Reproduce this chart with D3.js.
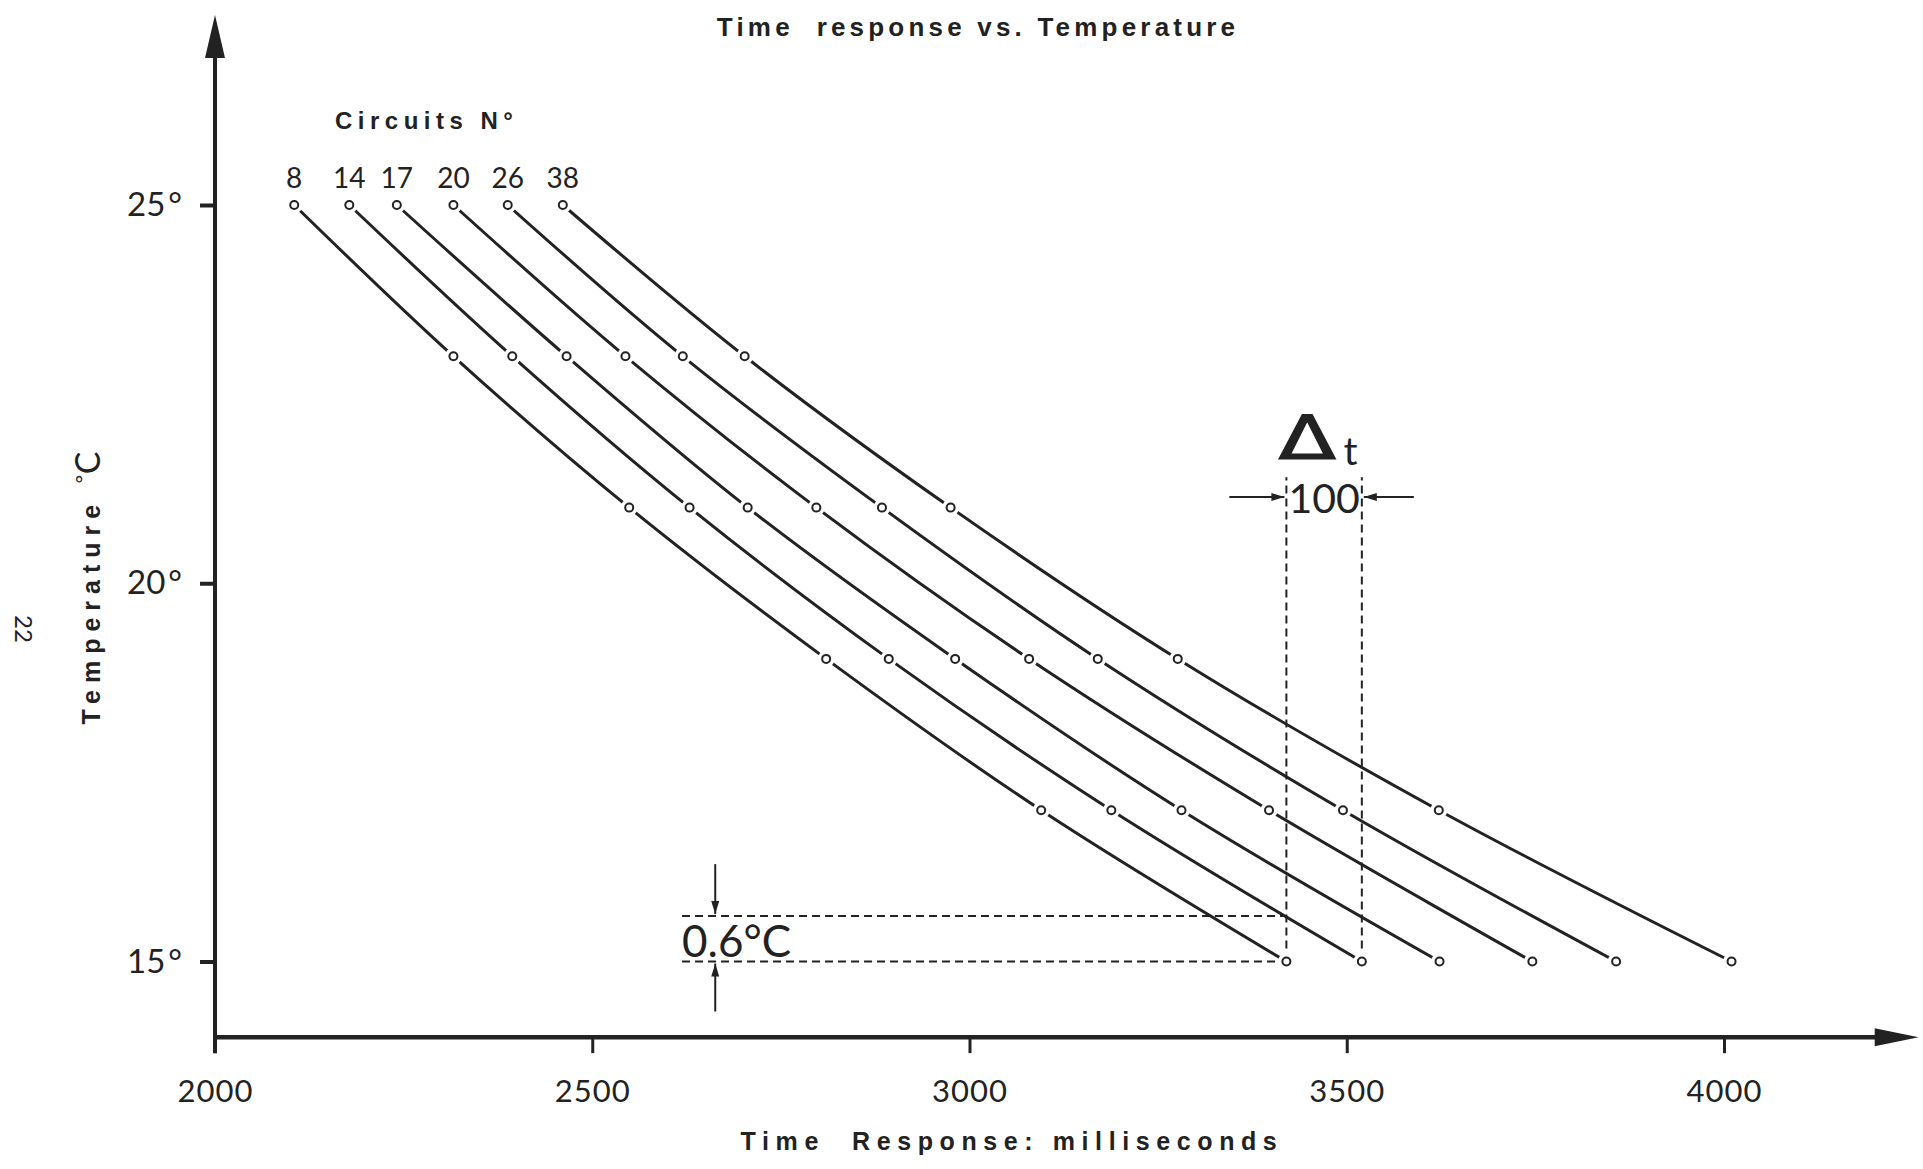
<!DOCTYPE html>
<html>
<head>
<meta charset="utf-8">
<script src="https://cdn.jsdelivr.net/npm/d3@7"></script>
<style>
  body { margin: 0; background: #fff; }
  svg text { fill: #222; white-space: pre; }
</style>
</head>
<body>
<svg></svg>
<script>
// chart size
const W = 1923, H = 1169;

// data
const temps = [25, 23, 21, 19, 17, 15];
const circuits = ["8", "14", "17", "20", "26", "38"];
const c8  = [2105, 2316, 2549, 2810, 3095, 3420];
const c14 = [2178, 2394, 2629, 2893, 3188, 3520];
const c17 = [2241, 2466, 2706, 2981, 3281, 3623];
const c20 = [2316, 2544, 2797, 3079, 3397, 3746];
const c26 = [2388, 2620, 2884, 3170, 3495, 3857];
const c38 = [2461, 2702, 2975, 3276, 3622, 4010];
const xTicks = [2000, 2500, 3000, 3500, 4000];
const yTicks = [15, 20, 25];

// annotation values (ms / °C)
const dtLeft = 3420, dtRight = 3520, dtTop = 21.4;
const dTLow = 15, dTHigh = 15.6, dTStart = 2619, dTArrowX = 2663;

const times = [c8, c14, c17, c20, c26, c38];
const series = circuits.map((c, i) => ({
  name: c,
  values: times[i].map((t, j) => ({ t: t, temp: temps[j] }))
}));

const svg = d3.select('svg').attr('width', W).attr('height', H);

const x = d3.scaleLinear().domain([2000, 4000]).range([215, 1724]);
const y = d3.scaleLinear().domain([15, 25]).range([961.5, 205]);
const xEnd = 4258;   // arrow tip of the time axis
const yTop = 27.51;  // arrow tip of the temperature axis
const yBottom = 14.0; // where the time axis sits
const ink = '#222';

// marker for the small dimension arrows
svg.append('defs').append('marker')
    .attr('id', 'tip')
    .attr('markerUnits', 'userSpaceOnUse')
    .attr('markerWidth', 14).attr('markerHeight', 10)
    .attr('refX', 13).attr('refY', 4)
    .attr('orient', 'auto')
  .append('path')
    .attr('d', 'M0,0 L13,4 L0,8 Z')
    .attr('fill', ink);

// ***** AXES *****
const x0 = x(2000), yAx = y(yBottom);

var xAxis = svg.append('g')
    .attr('transform', `translate(0,${yAx})`)
    .call(d3.axisBottom(x).tickValues(xTicks).tickSize(16).tickSizeOuter(0).tickPadding(27)
      .tickFormat(d => String(d)));
xAxis.select('.domain').remove();
xAxis.selectAll('line').attr('stroke', ink).attr('stroke-width', 3);
xAxis.selectAll('text')
    .attr('font-family', 'Lato, "Open Sans", sans-serif')
    .attr('font-size', 31)
    .attr('letter-spacing', 1)
    .attr('fill', ink);

var yAxis = svg.append('g')
    .attr('transform', `translate(${x0},0)`)
    .call(d3.axisLeft(y).tickValues(yTicks).tickSize(15).tickSizeOuter(0).tickPadding(18));
yAxis.select('.domain').remove();
yAxis.selectAll('line').attr('stroke', ink).attr('stroke-width', 4);
// number plus a detached degree sign
yAxis.selectAll('text')
    .attr('font-family', 'Lato, "Open Sans", sans-serif')
    .attr('font-size', 33)
    .attr('fill', ink)
    .text(null)
    .each(function(d) {
      d3.select(this).append('tspan').text(d);
      d3.select(this).append('tspan').attr('dx', 3).text('°');
    });

// axis lines with arrow heads
svg.append('line')
    .attr('x1', x0).attr('x2', x(xEnd) - 40)
    .attr('y1', yAx).attr('y2', yAx)
    .attr('stroke', ink).attr('stroke-width', 4.5);
svg.append('path')
    .attr('d', `M${x(xEnd)},${yAx} L${x(xEnd) - 44},${yAx - 9} L${x(xEnd) - 44},${yAx + 9} Z`)
    .attr('fill', ink);
svg.append('line')
    .attr('x1', x0).attr('x2', x0)
    .attr('y1', yAx + 16).attr('y2', y(yTop) + 40)
    .attr('stroke', ink).attr('stroke-width', 4);
svg.append('path')
    .attr('d', `M${x0},${y(yTop)} L${x0 - 10},${y(yTop) + 43} L${x0 + 10},${y(yTop) + 43} Z`)
    .attr('fill', ink);

// ***** DIMENSION LINES *****
const dash = '8,5';
var dims = svg.append('g').attr('stroke', ink).attr('stroke-width', 2).attr('stroke-dasharray', dash);
[dtLeft, dtRight].forEach(v => {
  dims.append('line')
      .attr('x1', x(v)).attr('x2', x(v))
      .attr('y1', y(dTLow)).attr('y2', y(dtTop));
});
[dTLow, dTHigh].forEach(v => {
  dims.append('line')
      .attr('x1', x(dTStart)).attr('x2', x(dtLeft))
      .attr('y1', y(v)).attr('y2', y(v));
});

// arrows pointing at the dimension lines
var arrows = svg.append('g').attr('stroke', ink).attr('stroke-width', 2);
const yArrow = 497;
arrows.append('line')
    .attr('x1', x(dtLeft) - 57).attr('x2', x(dtLeft) - 2)
    .attr('y1', yArrow).attr('y2', yArrow)
    .attr('marker-end', 'url(#tip)');
arrows.append('line')
    .attr('x1', x(dtRight) + 52).attr('x2', x(dtRight) + 2)
    .attr('y1', yArrow).attr('y2', yArrow)
    .attr('marker-end', 'url(#tip)');
arrows.append('line')
    .attr('x1', x(dTArrowX)).attr('x2', x(dTArrowX))
    .attr('y1', y(dTHigh) - 52).attr('y2', y(dTHigh) - 2)
    .attr('marker-end', 'url(#tip)');
arrows.append('line')
    .attr('x1', x(dTArrowX)).attr('x2', x(dTArrowX))
    .attr('y1', y(dTLow) + 50).attr('y2', y(dTLow) + 2)
    .attr('marker-end', 'url(#tip)');

// ***** CURVES *****
const line = d3.line()
    .x(d => x(d.t))
    .y(d => y(d.temp))
    .curve(d3.curveCatmullRom.alpha(0.5));

svg.append('g').selectAll('path.curve')
  .data(series)
  .enter().append('path')
    .attr('class', 'curve')
    .attr('d', d => line(d.values))
    .attr('fill', 'none')
    .attr('stroke', ink)
    .attr('stroke-width', 3);

// white halos break the curves around each point
var pts = svg.append('g').selectAll('g.pt')
  .data(series.flatMap(s => s.values))
  .enter().append('g')
    .attr('class', 'pt')
    .attr('transform', d => `translate(${x(d.t)},${y(d.temp)})`);
pts.append('circle').attr('r', 8.5).attr('fill', '#fff');
pts.append('circle').attr('r', 4)
    .attr('fill', '#fff').attr('stroke', ink).attr('stroke-width', 2);

// circuit numbers above the 25° points
svg.append('g').selectAll('text')
  .data(series)
  .enter().append('text')
    .attr('x', d => x(d.values[0].t))
    .attr('y', y(25) - 17)
    .attr('text-anchor', 'middle')
    .attr('font-family', 'Lato, "Open Sans", sans-serif')
    .attr('font-size', 28)
    .text(d => d.name);

// ***** TEXT *****
svg.append('text')
    .attr('x', 978).attr('y', 36)
    .attr('text-anchor', 'middle')
    .attr('font-family', '"Liberation Sans", Arial, sans-serif')
    .attr('font-weight', 'bold')
    .attr('font-size', 26)
    .attr('letter-spacing', 4.2)
    .text('Time  response vs. Temperature');

svg.append('text')
    .attr('x', 335).attr('y', 129)
    .attr('font-family', '"Liberation Sans", Arial, sans-serif')
    .attr('font-weight', 'bold')
    .attr('font-size', 24)
    .attr('letter-spacing', 5.5)
    .text('Circuits N°');

svg.append('text')
    .attr('x', 1012).attr('y', 1150)
    .attr('text-anchor', 'middle')
    .attr('font-family', '"Liberation Sans", Arial, sans-serif')
    .attr('font-weight', 'bold')
    .attr('font-size', 25)
    .attr('letter-spacing', 6.6)
    .text('Time  Response: milliseconds');

var yLab = svg.append('text')
    .attr('transform', 'translate(100,588) rotate(-90)')
    .attr('text-anchor', 'middle')
    .attr('font-family', '"Liberation Sans", Arial, sans-serif')
    .attr('font-weight', 'bold')
    .attr('font-size', 25);
yLab.append('tspan').attr('letter-spacing', 7).text('Temperature ');
yLab.append('tspan').attr('font-weight', 'normal').attr('font-size', 24).attr('dy', -8).text('°');
yLab.append('tspan').attr('font-weight', 'normal').attr('font-size', 34).attr('dy', 8)
    .attr('font-family', 'Lato, sans-serif').text('C');

// page number on the margin
svg.append('text')
    .attr('transform', 'translate(15,629) rotate(90)')
    .attr('text-anchor', 'middle')
    .attr('font-family', 'Lato, sans-serif')
    .attr('font-size', 24)
    .text('22');

// Δt and 0.6°C labels
svg.append('text')
    .attr('transform', `translate(${x(dtLeft) - 8},459) scale(1.4,1)`)
    .attr('font-family', '"DejaVu Sans", sans-serif')
    .attr('font-size', 60)
    .attr('stroke', ink).attr('stroke-width', 1.2)
    .text('Δ');
svg.append('text')
    .attr('x', x(dtLeft) + 57).attr('y', 465)
    .attr('font-family', 'Lato, sans-serif')
    .attr('font-size', 39)
    .text('t');
svg.append('text')
    .attr('x', (x(dtLeft) + x(dtRight)) / 2).attr('y', 513)
    .attr('text-anchor', 'middle')
    .attr('font-family', 'Lato, sans-serif')
    .attr('font-size', 41)
    .text('100');
svg.append('text')
    .attr('x', x(dTStart)).attr('y', 957)
    .attr('font-family', 'Lato, sans-serif')
    .attr('font-size', 44)
    .text('0.6°C');
</script>
</body>
</html>
